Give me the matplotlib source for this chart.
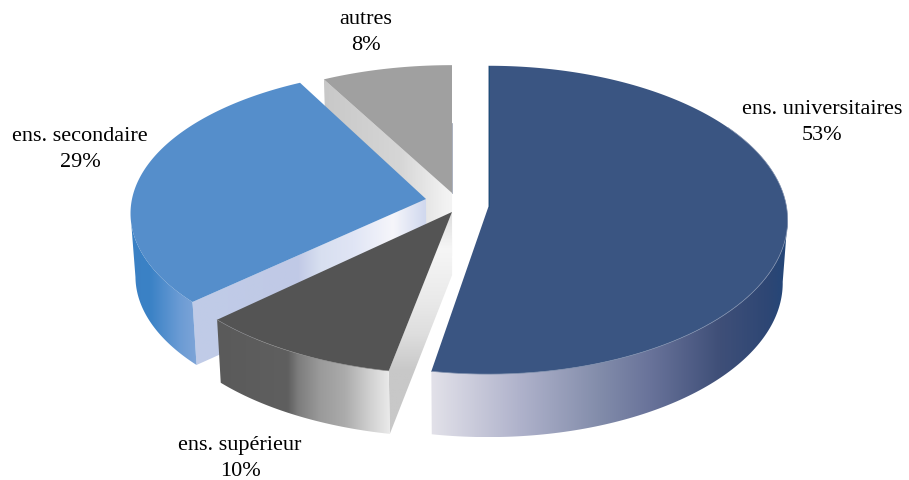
import numpy as np
import matplotlib
matplotlib.use("Agg")
from matplotlib import pyplot as plt
from matplotlib.patches import Polygon
from matplotlib.colors import LinearSegmentedColormap, to_rgb

labels = ["ens. universitaires", "ens. supérieur", "ens. secondaire", "autres"]
values = [53, 10, 29, 8]

# layout of the exploded slices, in pixels
apex_x = [488.5, 452, 426, 452]
apex_y = [207.5, 213, 200, 194]
radius_x = [298, 303, 294, 291]
radius_y = [153, 148, 143, 139]
persp = [0.0872, 0.0872, 0.1, 0.0872]
# small per-slice corrections of the edge angles, in degrees
turn_start = [0, 0.2, 1, 0.5]
turn_end = [-0.7, 0, 1, 0]
top_colors = ["#3A5582", "#545454", "#558ECB", "#A0A0A0"]
label_x = [822, 240, 80, 366]
label_y = [122, 458.5, 150, 33]
depth = 63.0
shrink = 0.985
x_mid = 460.0

# gradient stops for the walls: (pixel coordinate, colour)
arc_stops = [
    [(432, "#E2E1E9"), (520, "#AFB2CB"), (600, "#828CAA"), (650, "#69739A"),
     (720, "#3F4F78"), (770, "#2D4674"), (788, "#234679")],
    [(217, "#5A5A5A"), (288, "#5F5F5F"), (298, "#7C7C7C"), (320, "#9A9A9A"),
     (345, "#ABABAB"), (370, "#D0D0D0"), (390, "#EAEAEA")],
    [(130, "#3A80C4"), (150, "#3B82C6"), (178, "#6A9BD4"), (196, "#7FA5D8")],
]
side_stops = [
    (213, "#DDDDDD"), (250, "#F6F6F6"), (300, "#EAEAEA"), (335, "#DEDEDE"), (372, "#C8C8C8"),
]
inner3_stops = [
    (192, "#C0CCE8"), (297, "#C0C9E6"), (320, "#D8DFF0"), (353, "#E0E5F5"),
    (393, "#F6F6FB"), (426, "#D0D8EE"),
]
inner4_stops = [(323, "#C8C8C8"), (400, "#D6D6D6"), (445, "#F2F2F2"), (452, "#F4F4F4")]


def project(i, theta):
    u, v = np.sin(theta), np.cos(theta)
    w = 1 / (1 + persp[i] * v)
    return apex_x[i] + radius_x[i] * u * w, apex_y[i] - radius_y[i] * v * w


def lower(x, y):
    return x_mid + (x - x_mid) * shrink, y + depth


def draw_band(ax, xs, ys, stops, key="x", zorder=1):
    xb, yb = lower(xs, ys)
    px = np.r_[xs, xb[::-1]]
    py = np.r_[ys, yb[::-1]]
    lo, hi = stops[0][0], stops[-1][0]
    pos = [(p - lo) / (hi - lo) for p, _ in stops]
    cmap = LinearSegmentedColormap.from_list("wall", list(zip(pos, [to_rgb(c) for _, c in stops])))
    x0, x1, y0, y1 = px.min(), px.max(), py.min(), py.max()
    if key == "x":
        grad = cmap((np.linspace(x0, x1, 512) - lo) / (hi - lo))[None, :, :3]
    else:
        grad = cmap((np.linspace(y0, y1, 512) - lo) / (hi - lo))[:, None, :3]
    im = ax.imshow(grad, extent=(x0, x1, y1, y0), aspect="auto", interpolation="bilinear", zorder=zorder)
    clip = Polygon(np.c_[px, py], closed=True, transform=ax.transData)
    im.set_clip_path(clip)


fig = plt.figure(figsize=(9.09, 4.81), dpi=100)
ax = fig.add_axes([0, 0, 1, 1])

bounds = np.concatenate([[0], np.cumsum(values)]) * 3.6
arcs = []
for i in range(len(values)):
    t = np.radians(np.linspace(bounds[i] + turn_start[i], bounds[i + 1] + turn_end[i], 200))
    arcs.append(project(i, t))

# painted back to front
for i in [3, 2, 1, 0]:
    ax_, ay_ = apex_x[i], apex_y[i]
    ox, oy = arcs[i]
    z = 10 - i * 2
    xs = np.array([ox[0], ax_])
    ys = np.array([oy[0], ay_])
    if i == 3:
        draw_band(ax, xs, ys, inner4_stops, zorder=z)
    if i == 2:
        draw_band(ax, xs, ys, inner3_stops, zorder=z)
    if i == 1:
        draw_band(ax, xs, ys, side_stops, key="y", zorder=z)
    # only the part of the rim facing the viewer gets a wall
    if i == 0:
        k = np.argmax(ox)
        draw_band(ax, ox[k:], oy[k:], arc_stops[i], zorder=z + 0.1)
    elif i == 1:
        draw_band(ax, ox, oy, arc_stops[i], zorder=z + 0.1)
    elif i == 2:
        k = np.argmin(ox)
        draw_band(ax, ox[:k + 1], oy[:k + 1], arc_stops[i], zorder=z + 0.1)
    ax.fill(np.r_[ax_, ox], np.r_[ay_, oy], color=top_colors[i], lw=0, zorder=z + 0.5)

# thin rim highlights and the dark sliver along the main slice
ax.plot(arcs[0][0][60:], arcs[0][1][60:], color="#7F8FAD", lw=0.5, zorder=10.6)
ax.plot(arcs[1][0], arcs[1][1], color="#8A8A8A", lw=0.4, zorder=8.6)
ax.plot([arcs[0][0][0], apex_x[0]], [arcs[0][1][0], apex_y[0]], color="#1F4E79", lw=0.7, zorder=10.7)
ax.plot([apex_x[3], apex_x[3]], [apex_y[3] - 70, apex_y[3]], color="#8A93A5", lw=0.5, zorder=4.7)

for i, name in enumerate(labels):
    ax.text(label_x[i], label_y[i], f"{name}\n{values[i]}%", ha="center", va="center",
            family="Liberation Serif", fontsize=16, linespacing=1.5, color="black", zorder=20)

ax.set_xlim(0, 909)
ax.set_ylim(481, 0)
ax.axis("off")

plt.savefig("out.png", dpi=100)
plt.close()
